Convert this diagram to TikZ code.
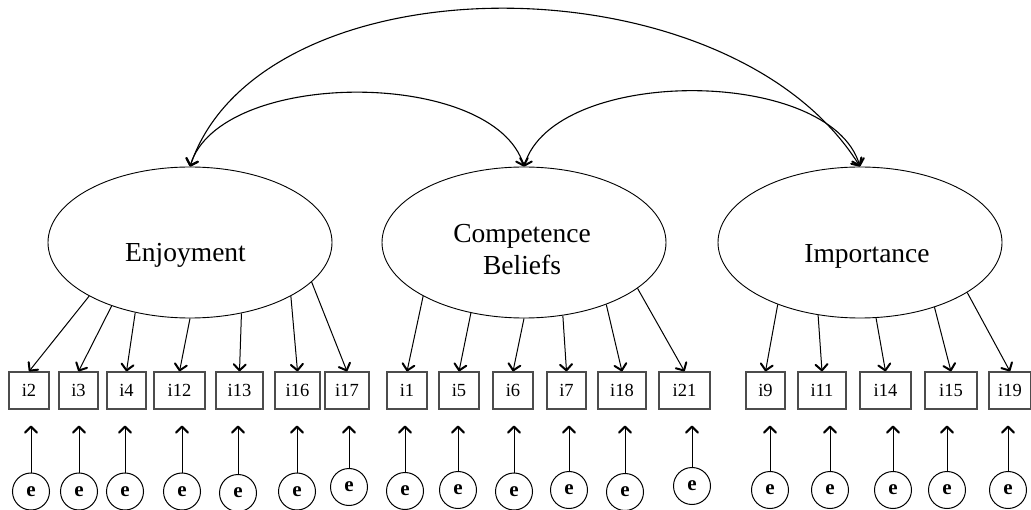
\documentclass[tikz,border=0pt]{standalone}
\usepackage{fontspec}
\setmainfont{Liberation Serif}
\usetikzlibrary{arrows.meta,shapes.geometric}
\begin{document}
\begin{tikzpicture}[x=1pt,y=-1pt,
  barb/.tip={Straight Barb[length=6pt,width=12pt,line width=2pt 0,round]},
  arr/.style={-barb, line width=1pt},
  dbl/.style={barb-barb, line width=1.1pt},
  latent/.style={ellipse, draw, line width=0.9pt, minimum width=284pt, minimum height=151pt, inner sep=0pt},
  lattext/.style={font=\fontsize{27.5}{32.5}\selectfont, align=center},
  obs/.style={draw=black!70, line width=1.2pt, minimum height=37pt, inner sep=0pt, font=\fontsize{18.5}{20}\selectfont},
  err/.style={circle, draw, line width=1pt, minimum size=37pt, inner sep=0pt, font=\bfseries\fontsize{21}{24}\selectfont},
]
\useasboundingbox (0,0) rectangle (1031,510);

% latent factors
\node[latent] (E) at (190,242.5) {};
\node[latent] (C) at (524,242.5) {};
\node[latent] (I) at (860,242.5) {};
\node[lattext, anchor=base] (Et) at (185.5,261.5) {Enjoyment};
\node[lattext] (Ct) at (522,249.5) {Competence\\Beliefs};
\node[lattext, anchor=base] (It) at (867,262.5) {Importance};

% covariances
\draw[dbl] (E.north) .. controls (262,-44) and (729,-44) .. (I.north);
\draw[dbl] (E.north) .. controls (220,68) and (494,68) .. (C.north);
\draw[dbl] (C.north) .. controls (554,66) and (830,66) .. (I.north);

% indicators
\foreach \n/\x/\w in {i2/29/40, i3/78.5/39, i4/126.5/39, i12/179.5/51, i13/239.5/47, i16/297.5/45, i17/347/44,
  i1/407/40, i5/459/40, i6/513/40, i7/566.5/39, i18/622/48, i21/684.5/51,
  i9/765.5/39, i11/822/48, i14/885.5/51, i15/951/52, i19/1010/42}
  \node[obs, minimum width={\w pt}] (\n) at (\x,390.5) {\n};

% loadings
\foreach \b/\a in {i2/208, i3/219, i4/232.5, i12/270, i13/306.4, i16/332, i17/342}
  \draw[arr] (E.\a) -- (\b.north);
\foreach \b/\a in {i1/208.6, i5/233, i6/270, i7/298, i18/323.7, i21/338.7}
  \draw[arr] (C.\a) -- (\b.north);
\foreach \b/\a in {i9/217.5, i11/240.6, i14/282.4, i15/319.2, i19/335.6}
  \draw[arr] (I.\a) -- (\b.north);

% errors
\foreach \b/\x/\y in {i2/31/491.5, i3/79/491.5, i4/125/491.5, i12/182/491.5, i13/238/493, i16/297/491.5, i17/349/487,
  i1/405/491, i5/458/490, i6/514/491.5, i7/569/490, i18/625/492, i21/692/486,
  i9/770/490, i11/830/490, i14/893/490, i15/947/490, i19/1008/490}
{
  \node[err] (e\b) at (\x,\y) {e};
  \draw[arr, shorten >=16pt] (e\b.north) -- (e\b.north |- \b.south);
}
\end{tikzpicture}
\end{document}
